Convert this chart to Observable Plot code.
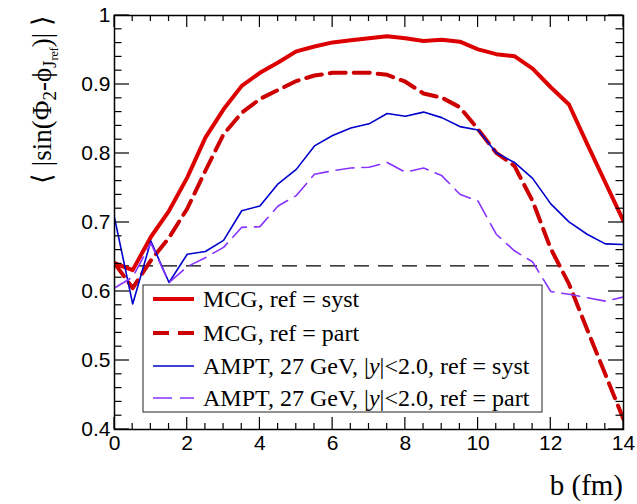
<!DOCTYPE html>
<html><head><meta charset="utf-8">
<script src="https://cdn.jsdelivr.net/npm/d3@7"></script>
<script src="https://cdn.jsdelivr.net/npm/@observablehq/plot@0.6"></script>
<style>body{margin:0;background:#fff}</style>
</head><body><div id="chart"></div>
<script>
// impact parameter b (fm)
const bValues = [0,0.5,1,1.5,2,2.5,3,3.5,4,4.5,5,5.5,6,6.5,7,7.5,8,8.5,9,9.5,10,10.5,11,11.5,12,12.5,13,13.5,14];
const mcgSyst  = [0.641,0.631,0.679,0.717,0.765,0.823,0.864,0.898,0.917,0.932,0.948,0.955,0.961,0.964,0.967,0.970,0.967,0.963,0.965,0.962,0.951,0.944,0.941,0.923,0.896,0.871,0.814,0.758,0.702];
const mcgPart  = [0.641,0.605,0.645,0.678,0.720,0.775,0.828,0.859,0.879,0.892,0.905,0.913,0.917,0.917,0.917,0.914,0.904,0.887,0.881,0.867,0.835,0.801,0.782,0.731,0.662,0.611,0.545,0.480,0.415];
const amptSyst = [0.707,0.582,0.673,0.613,0.654,0.658,0.674,0.717,0.724,0.756,0.777,0.811,0.826,0.837,0.843,0.858,0.854,0.860,0.852,0.839,0.834,0.801,0.787,0.764,0.727,0.701,0.683,0.669,0.668];
const amptPart = [0.605,0.621,0.670,0.613,0.636,0.649,0.664,0.693,0.694,0.724,0.739,0.770,0.775,0.779,0.780,0.787,0.773,0.779,0.768,0.741,0.731,0.683,0.659,0.643,0.600,0.596,0.591,0.586,0.592];
const refLevel = [0.637];

const xMajorTicks = [0,2,4,6,8,10,12,14];
const xMinorTicks = [0.5,1,1.5,2.5,3,3.5,4.5,5,5.5,6.5,7,7.5,8.5,9,9.5,10.5,11,11.5,12.5,13,13.5];
const yMajorTicks = [0.4,0.5,0.6,0.7,0.8,0.9,1.0];
const yMinorTicks = [0.42,0.44,0.46,0.48,0.52,0.54,0.56,0.58,0.62,0.64,0.66,0.68,0.72,0.74,0.76,0.78,0.82,0.84,0.86,0.88,0.92,0.94,0.96,0.98];

const seriesNames = ["MCG, ref = syst", "MCG, ref = part", "AMPT, 27 GeV, |y|<2.0, ref = syst", "AMPT, 27 GeV, |y|<2.0, ref = part"];
const seriesValues = [mcgSyst, mcgPart, amptSyst, amptPart];
const seriesStyles = [
  {stroke: "#dd0000", strokeWidth: 4, dash: null},
  {stroke: "#cc0000", strokeWidth: 4, dash: "16,8"},
  {stroke: "#0000cc", strokeWidth: 1.6, dash: null},
  {stroke: "#8833ff", strokeWidth: 1.6, dash: "18,8"}
];

const tables = seriesValues.map(vals => bValues.map((b, i) => ({b, v: vals[i]})));

const W = 637, H = 504;
const mL = 114, mR = 14, mT = 15, mB = 75;
const tickFont = "Liberation Sans, Arial, sans-serif";
const serif = "Liberation Serif, Times New Roman, serif";

const chart = Plot.plot({
  width: W, height: H,
  marginLeft: mL, marginRight: mR, marginTop: mT, marginBottom: mB,
  style: {background: "white", overflow: "visible"},
  x: {domain: [0, 14]},
  y: {domain: [0.4, 1]},
  marks: [
    Plot.ruleY(refLevel, {stroke: "black", strokeWidth: 1.2, strokeDasharray: "15,9"}),
    ...tables.map((t, k) => Plot.line(t, {x: "b", y: "v", stroke: seriesStyles[k].stroke, strokeWidth: seriesStyles[k].strokeWidth, strokeDasharray: seriesStyles[k].dash, clip: true})),
    Plot.axisX({ticks: xMajorTicks, anchor: "bottom", tickSize: 0, tickPadding: 6, label: null, fontSize: 21, fontFamily: tickFont, fill: "black", tickFormat: d => String(d)}),
    Plot.axisY({ticks: yMajorTicks, anchor: "left", tickSize: 0, tickPadding: 4, label: null, fontSize: 21, fontFamily: tickFont, fill: "black", tickFormat: d => d === 1 ? "1" : d.toFixed(1)}),
    Plot.frame({stroke: "black", strokeWidth: 1.5})
  ]
});

const svg = d3.select(chart);
const sx = chart.scale("x"), sy = chart.scale("y");
const frameL = mL, frameR = W - mR, frameT = mT, frameB = H - mB;

// inward ticks on all four sides, positioned through Plot's own scales
const tg = svg.append("g").attr("stroke", "black").attr("stroke-width", 1.2);
function xt(ticks, len) {
  ticks.forEach(v => {
    const px = sx.apply(v);
    tg.append("line").attr("x1", px).attr("x2", px).attr("y1", frameB).attr("y2", frameB - len);
    tg.append("line").attr("x1", px).attr("x2", px).attr("y1", frameT).attr("y2", frameT + len);
  });
}
function ytk(ticks, len) {
  ticks.forEach(v => {
    const py = sy.apply(v);
    tg.append("line").attr("y1", py).attr("y2", py).attr("x1", frameL).attr("x2", frameL + len);
    tg.append("line").attr("y1", py).attr("y2", py).attr("x1", frameR).attr("x2", frameR - len);
  });
}
xt(xMajorTicks, 12); xt(xMinorTicks, 6);
ytk(yMajorTicks, 15); ytk(yMinorTicks, 7.5);

// y-axis title
const yt = svg.append("text")
  .attr("transform", "translate(42,15) rotate(-90)")
  .attr("text-anchor", "end")
  .attr("dominant-baseline", "central")
  .attr("font-family", serif)
  .attr("font-size", 27)
  .attr("fill", "black");
yt.append("tspan").text("\u27E8 |sin(\u03A6");
yt.append("tspan").attr("dy", 7).attr("font-size", 19).text("2");
yt.append("tspan").attr("dy", -7).text("-\u03D5");
yt.append("tspan").attr("dy", 7).attr("font-size", 19).text("J");
yt.append("tspan").attr("dy", 5).attr("font-size", 12).text("ref");
yt.append("tspan").attr("dy", -12).text(")| \u27E9");

// x-axis title
svg.append("text")
  .attr("x", 623).attr("y", 495)
  .attr("text-anchor", "end")
  .attr("font-family", serif)
  .attr("font-size", 29)
  .attr("fill", "black")
  .text("b (fm)");

// legend
const lg = svg.append("g");
lg.append("rect").attr("x", 143).attr("y", 285).attr("width", 399).attr("height", 127)
  .attr("fill", "white").attr("stroke", "#222").attr("stroke-width", 1);
const rowY = [299, 333, 366, 398];
seriesNames.forEach((name, k) => {
  const st = seriesStyles[k];
  lg.append("line").attr("x1", 153).attr("x2", 194).attr("y1", rowY[k]).attr("y2", rowY[k])
    .attr("stroke", st.stroke).attr("stroke-width", st.strokeWidth)
    .attr("stroke-dasharray", st.dash ? (k === 1 ? "16,9" : "19,8") : null);
  const t = lg.append("text").attr("x", 203).attr("y", rowY[k]).attr("dy", "0.35em")
    .attr("text-anchor", "start")
    .attr("font-family", serif).attr("font-size", 24).attr("fill", "black");
  const parts = name.split("|y|");
  if (parts.length === 2) {
    t.append("tspan").text(parts[0] + "|");
    t.append("tspan").attr("font-style", "italic").text("y");
    t.append("tspan").text("|" + parts[1]);
  } else {
    t.text(name);
  }
});

document.getElementById("chart").appendChild(chart);
</script>
</body></html>
